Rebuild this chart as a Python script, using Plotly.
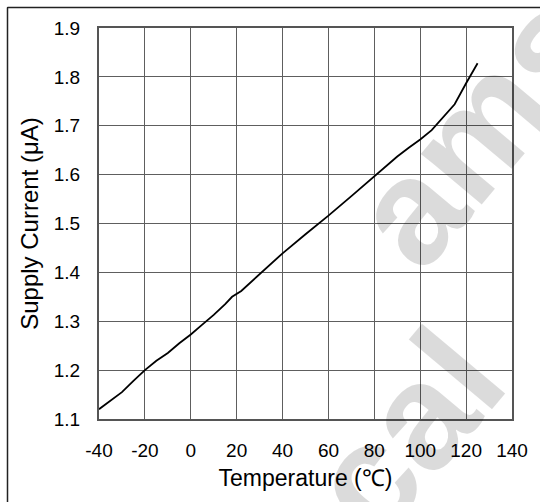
import plotly.graph_objects as go

temperature_c = [-40, -35, -30, -25, -20, -15, -10, -5, 0, 5, 10, 15, 18, 22, 25, 30,
                 40, 50, 60, 70, 80, 85, 90, 95, 100, 105, 110, 115, 120, 125]
supply_current_ua = [1.120, 1.138, 1.155, 1.178, 1.200, 1.219, 1.235, 1.255, 1.273, 1.293,
                     1.313, 1.335, 1.350, 1.362, 1.375, 1.397, 1.439, 1.478, 1.516, 1.556,
                     1.597, 1.617, 1.637, 1.655, 1.672, 1.691, 1.717, 1.744, 1.787, 1.828]

x_ticks = [-40, -20, 0, 20, 40, 60, 80, 100, 120, 140]
y_ticks = [1.1, 1.2, 1.3, 1.4, 1.5, 1.6, 1.7, 1.8, 1.9]

FONT = "Liberation Sans, Arial, sans-serif"
W, H = 540, 502

def px_x(x):
    return x / W

def px_y(y):
    return 1 - y / H

fig = go.Figure()
fig.add_trace(go.Scatter(
    x=temperature_c, y=supply_current_ua, mode="lines",
    line=dict(color="black", width=1.8), showlegend=False, hoverinfo="skip"))

fig.update_layout(
    width=W, height=H,
    margin=dict(l=0, r=0, t=0, b=0, pad=0, autoexpand=False),
    paper_bgcolor="white", plot_bgcolor="white",
    font=dict(family=FONT, color="black", size=19),
    showlegend=False,
)
fig.update_layout(
    xaxis=dict(
        domain=[px_x(99), px_x(512)],
        range=[-40, 140], tickmode="array", tickvals=x_ticks,
        ticktext=[str(v) for v in x_ticks],
        showgrid=True, gridcolor="#5e5e5e", gridwidth=1,
        showline=True, linecolor="#555555", linewidth=2, mirror=True,
        zeroline=False, ticks="", ticklabelstandoff=13, automargin=False,
        tickfont=dict(size=19),
        title=dict(text="Temperature (℃)", font=dict(size=23), standoff=10),
    ),
    yaxis=dict(
        domain=[px_y(419), px_y(28)],
        range=[1.1, 1.9], tickmode="array", tickvals=y_ticks,
        ticktext=[f"{v:.1f}" for v in y_ticks],
        showgrid=True, gridcolor="#5e5e5e", gridwidth=1,
        showline=True, linecolor="#555555", linewidth=2, mirror=True,
        zeroline=False, ticks="", ticklabelstandoff=13, automargin=False,
        tickfont=dict(size=19),
        title=dict(text="Supply Current (μA)", font=dict(size=24), standoff=8),
    ),
)

# outer frame of the figure box (top and left edges)
fig.add_shape(type="line", xref="paper", yref="paper", layer="above",
              x0=px_x(7.5), y0=px_y(7.5), x1=1, y1=px_y(7.5),
              line=dict(color="#222222", width=1.5))
fig.add_shape(type="line", xref="paper", yref="paper", layer="above",
              x0=px_x(7.5), y0=px_y(7.5), x1=px_x(7.5), y1=0,
              line=dict(color="#222222", width=1.5))

# watermark
wm = dict(xref="paper", yref="paper", showarrow=False, textangle=-50,
          font=dict(family="Liberation Sans, Arial", size=150, color="rgba(0,0,0,0.14)"),
          xanchor="center", yanchor="middle")
fig.add_annotation(text="<b>ams</b>", x=px_x(478), y=px_y(128), **wm)
fig.add_annotation(text="<b>cal</b>", x=px_x(405), y=px_y(432), **wm)

post_js = (
    "document.body.style.margin='0';"
    "document.body.style.padding='0';"
    "document.body.style.overflow='hidden';"
    "document.documentElement.style.overflow='hidden';"
    "var fr=document.createElement('div');"
    "fr.style.cssText='position:absolute;left:7px;top:7px;width:620px;height:620px;"
    "border-left:1.5px solid #222;border-top:1.5px solid #222;"
    "pointer-events:none;z-index:10;box-sizing:border-box;';"
    "document.body.appendChild(fr);"
)

fig.write_html("out.html", config={"displayModeBar": False}, post_script=post_js)
